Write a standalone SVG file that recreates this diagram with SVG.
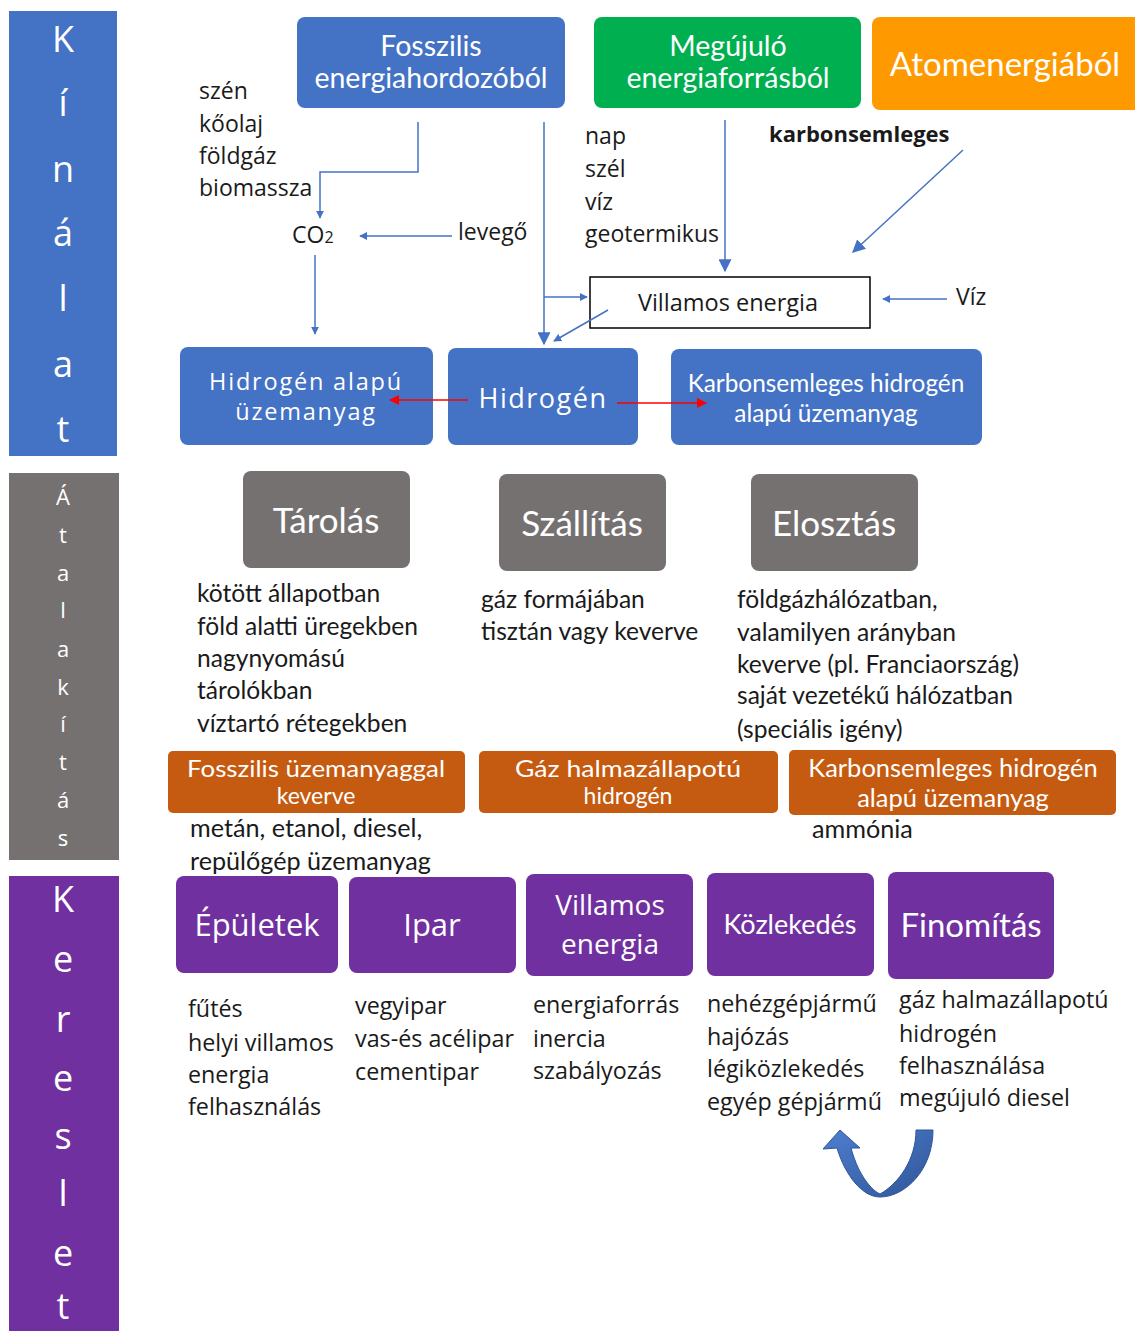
<svg xmlns="http://www.w3.org/2000/svg" width="1135" height="1331" viewBox="0 0 1135 1331">
<defs>
<style>
.t{font-family:"Open Sans","DejaVu Sans",sans-serif;fill:#1a1a1a;dominant-baseline:central}
.c{font-family:Lato,"Liberation Sans",sans-serif;dominant-baseline:central}
.w{fill:#fff;text-anchor:middle}
.side{font-family:"Open Sans","DejaVu Sans",sans-serif;fill:#fff;text-anchor:middle;dominant-baseline:central}
.ln{stroke:#4472C4;stroke-width:1.5;fill:none}
.red{stroke:#FF0000;stroke-width:1.5;fill:none}
.blue{fill:#4472C4}
.gray{fill:#767171}
.org{fill:#C55A11}
.pur{fill:#7030A0}
</style>
<marker id="ab" viewBox="0 0 10 10" refX="9" refY="5" markerWidth="8" markerHeight="8" orient="auto" markerUnits="userSpaceOnUse"><path d="M0,0 L10,5 L0,10 Z" fill="#4472C4"/></marker>
<marker id="abL" viewBox="0 0 10 10" refX="9" refY="5" markerWidth="13" markerHeight="13" orient="auto" markerUnits="userSpaceOnUse"><path d="M0,0 L10,5 L0,10 Z" fill="#4472C4"/></marker>
<marker id="ar" viewBox="0 0 10 10" refX="9" refY="5" markerWidth="10" markerHeight="10" orient="auto" markerUnits="userSpaceOnUse"><path d="M0,0 L10,5 L0,10 Z" fill="#FF0000"/></marker>
<linearGradient id="ug" x1="0" y1="0" x2="1" y2="1"><stop offset="0" stop-color="#4F7FD0"/><stop offset="1" stop-color="#2F5597"/></linearGradient>
</defs>
<rect width="1135" height="1331" fill="#fff"/>

<g id="side-kinalat">
<rect x="9" y="11" width="108" height="445" class="blue"/>
<text class="side" font-size="36"><tspan x="63" y="38">K</tspan><tspan x="63" y="102">í</tspan><tspan x="63" y="168">n</tspan><tspan x="63" y="232">á</tspan><tspan x="63" y="297">l</tspan><tspan x="63" y="363">a</tspan><tspan x="63" y="428">t</tspan></text>
</g>
<g id="side-atalakitas">
<rect x="9" y="473" width="110" height="387" class="gray"/>
<text class="side" font-size="22"><tspan x="63" y="496">Á</tspan><tspan x="63" y="534">t</tspan><tspan x="63" y="572">a</tspan><tspan x="63" y="609">l</tspan><tspan x="63" y="648">a</tspan><tspan x="63" y="686">k</tspan><tspan x="63" y="723">í</tspan><tspan x="63" y="761">t</tspan><tspan x="63" y="799">á</tspan><tspan x="63" y="837">s</tspan></text>
</g>
<g id="side-kereslet">
<rect x="9" y="876" width="110" height="455" class="pur"/>
<text class="side" font-size="36"><tspan x="63" y="898">K</tspan><tspan x="63" y="958">e</tspan><tspan x="63" y="1018">r</tspan><tspan x="63" y="1077">e</tspan><tspan x="63" y="1135">s</tspan><tspan x="63" y="1192">l</tspan><tspan x="63" y="1252">e</tspan><tspan x="63" y="1305">t</tspan></text>
</g>

<g id="fosszilis">
<rect x="297" y="17" width="268" height="91" rx="8" class="blue"/>
<text class="c w" font-size="28.5"><tspan x="431" y="45">Fosszilis</tspan><tspan x="431" y="77">energiahordozóból</tspan></text>
</g>
<g id="megujulo">
<rect x="594" y="17" width="267" height="91" rx="8" fill="#00B050"/>
<text class="c w" font-size="28.5"><tspan x="728" y="45">Megújuló</tspan><tspan x="728" y="77">energiaforrásból</tspan></text>
</g>
<g id="atom">
<rect x="872" y="17" width="270" height="93" rx="8" fill="#FF9900"/>
<text class="c w" font-size="33" x="1005" y="63">Atomenergiából</text>
</g>

<g id="labels-top">
<text class="t" font-size="23"><tspan x="199" y="90">szén</tspan><tspan x="199" y="123">kőolaj</tspan><tspan x="199" y="155">földgáz</tspan><tspan x="199" y="187">biomassza</tspan></text>
<text class="t" font-size="23" x="292" y="234">CO<tspan font-size="16" dy="3">2</tspan></text>
<text class="t" font-size="23" x="458" y="231">levegő</text>
<text class="t" font-size="23"><tspan x="585" y="135">nap</tspan><tspan x="585" y="168">szél</tspan><tspan x="585" y="201">víz</tspan><tspan x="585" y="233">geotermikus</tspan></text>
<text class="t" font-size="22" font-weight="bold" x="769" y="133">karbonsemleges</text>
<text class="t" font-size="23" x="956" y="296">Víz</text>
</g>

<g id="villamos-energia-box">
<rect x="590" y="277" width="280" height="51" fill="#fff" stroke="#000" stroke-width="1.5"/>
<text class="t" font-size="23.5" x="728" y="302" text-anchor="middle">Villamos energia</text>
</g>

<g id="hidrogen-alapu">
<rect x="180" y="347" width="253" height="98" rx="8" class="blue"/>
<text class="t w" font-size="23.5" letter-spacing="1.8"><tspan x="306" y="381">Hidrogén alapú</tspan><tspan x="306" y="411">üzemanyag</tspan></text>
</g>
<g id="hidrogen">
<rect x="448" y="348" width="190" height="97" rx="8" class="blue"/>
<text class="t w" font-size="27" letter-spacing="1.5" x="543" y="397">Hidrogén</text>
</g>
<g id="karbonsemleges-hidrogen">
<rect x="671" y="349" width="311" height="96" rx="8" class="blue"/>
<text class="c w" font-size="24.4"><tspan x="826" y="382">Karbonsemleges hidrogén</tspan><tspan x="826" y="412">alapú üzemanyag</tspan></text>
</g>

<g id="tarolas">
<rect x="243" y="471" width="167" height="97" rx="8" class="gray"/>
<text class="c w" font-size="35" x="326" y="519">Tárolás</text>
</g>
<g id="szallitas">
<rect x="499" y="474" width="167" height="97" rx="8" class="gray"/>
<text class="c w" font-size="35" x="582" y="522">Szállítás</text>
</g>
<g id="elosztas">
<rect x="751" y="474" width="167" height="97" rx="8" class="gray"/>
<text class="c w" font-size="35" x="834" y="522">Elosztás</text>
</g>

<g id="labels-mid">
<text class="c" font-size="24.6" fill="#1a1a1a"><tspan x="197" y="592">kötött állapotban</tspan><tspan x="197" y="625">föld alatti üregekben</tspan><tspan x="197" y="657">nagynyomású</tspan><tspan x="197" y="689">tárolókban</tspan><tspan x="197" y="722">víztartó rétegekben</tspan></text>
<text class="c" font-size="24.6" fill="#1a1a1a"><tspan x="481" y="598">gáz formájában</tspan><tspan x="481" y="630">tisztán vagy keverve</tspan></text>
<text class="c" font-size="24.6" fill="#1a1a1a"><tspan x="737" y="598">földgázhálózatban,</tspan><tspan x="737" y="631">valamilyen arányban</tspan><tspan x="737" y="663">keverve (pl. Franciaország)</tspan><tspan x="737" y="694">saját vezetékű hálózatban</tspan><tspan x="737" y="728">(speciális igény)</tspan></text>
</g>

<g id="fosszilis-keverve">
<rect x="168" y="751" width="297" height="62" rx="5" class="org"/>
<text class="c w" font-size="23"><tspan x="316" y="768" textLength="258" lengthAdjust="spacingAndGlyphs">Fosszilis üzemanyaggal</tspan><tspan x="316" y="795">keverve</tspan></text>
</g>
<g id="gaz-hidrogen">
<rect x="479" y="751" width="299" height="62" rx="5" class="org"/>
<text class="c w" font-size="23"><tspan x="628" y="768" textLength="226" lengthAdjust="spacingAndGlyphs">Gáz halmazállapotú</tspan><tspan x="628" y="795">hidrogén</tspan></text>
</g>
<g id="karbonsemleges-uzemanyag">
<rect x="789" y="750" width="327" height="65" rx="5" class="org"/>
<text class="c w" font-size="25.5"><tspan x="953" y="767">Karbonsemleges hidrogén</tspan><tspan x="953" y="797">alapú üzemanyag</tspan></text>
</g>
<g id="labels-orange">
<text class="c" font-size="25.2" fill="#1a1a1a"><tspan x="190" y="827">metán, etanol, diesel,</tspan><tspan x="190" y="860">repülőgép üzemanyag</tspan></text>
<text class="c" font-size="25.2" fill="#1a1a1a" x="812" y="828">ammónia</text>
</g>

<g id="epuletek">
<rect x="176" y="876" width="162" height="97" rx="8" class="pur"/>
<text class="t w" font-size="31" x="257" y="924">Épületek</text>
</g>
<g id="ipar">
<rect x="349" y="877" width="167" height="96" rx="8" class="pur"/>
<text class="t w" font-size="31" x="432" y="924">Ipar</text>
</g>
<g id="villamos-energia-kereslet">
<rect x="526" y="874" width="167" height="102" rx="8" class="pur"/>
<text class="t w" font-size="28"><tspan x="610" y="904">Villamos</tspan><tspan x="610" y="943">energia</tspan></text>
</g>
<g id="kozlekedes">
<rect x="707" y="873" width="167" height="103" rx="8" class="pur"/>
<text class="c w" font-size="27" x="790" y="923">Közlekedés</text>
</g>
<g id="finomitas">
<rect x="888" y="872" width="166" height="107" rx="8" class="pur"/>
<text class="c w" font-size="33" x="971" y="924">Finomítás</text>
</g>

<g id="labels-bottom">
<text class="t" font-size="23.3"><tspan x="188" y="1008">fűtés</tspan><tspan x="188" y="1042">helyi villamos</tspan><tspan x="188" y="1074">energia</tspan><tspan x="188" y="1106">felhasználás</tspan></text>
<text class="t" font-size="23.3"><tspan x="355" y="1005">vegyipar</tspan><tspan x="355" y="1038">vas-és acélipar</tspan><tspan x="355" y="1071">cementipar</tspan></text>
<text class="t" font-size="23.3"><tspan x="533" y="1004">energiaforrás</tspan><tspan x="533" y="1038">inercia</tspan><tspan x="533" y="1070">szabályozás</tspan></text>
<text class="t" font-size="23.3"><tspan x="707" y="1003">nehézgépjármű</tspan><tspan x="707" y="1036">hajózás</tspan><tspan x="707" y="1068">légiközlekedés</tspan><tspan x="707" y="1101">egyép gépjármű</tspan></text>
<text class="t" font-size="23.3"><tspan x="899" y="999">gáz halmazállapotú</tspan><tspan x="899" y="1033">hidrogén</tspan><tspan x="899" y="1065">felhasználása</tspan><tspan x="899" y="1097">megújuló diesel</tspan></text>
</g>

<g id="connectors">
<polyline class="ln" points="418,122 418,172 320,172 320,218" marker-end="url(#ab)"/>
<line class="ln" x1="452" y1="236" x2="360" y2="236" marker-end="url(#ab)"/>
<line class="ln" x1="315" y1="255" x2="315" y2="334" marker-end="url(#ab)"/>
<line class="ln" x1="544" y1="122" x2="544" y2="344" marker-end="url(#abL)"/>
<line class="ln" x1="544" y1="297" x2="587" y2="297" marker-end="url(#ab)"/>
<line class="ln" x1="608" y1="310" x2="554" y2="341" marker-end="url(#ab)"/>
<line class="ln" x1="725" y1="120" x2="725" y2="271" marker-end="url(#abL)"/>
<line class="ln" x1="963" y1="150" x2="853" y2="252" marker-end="url(#abL)"/>
<line class="ln" x1="947" y1="299" x2="883" y2="299" marker-end="url(#ab)"/>
<line class="red" x1="468" y1="400" x2="390" y2="400" marker-end="url(#ar)"/>
<line class="red" x1="617" y1="403" x2="706" y2="403" marker-end="url(#ar)"/>
<path d="M933 1130 C933 1170 905 1197 880 1197 C862 1197 845 1175 837 1148 L823 1149 L840 1130 L860 1148 L851 1148 C857 1170 868 1188 880 1194 C898 1184 916 1160 916 1130 Z" fill="url(#ug)" stroke="#2F5597" stroke-width="1"/>
</g>
</svg>
